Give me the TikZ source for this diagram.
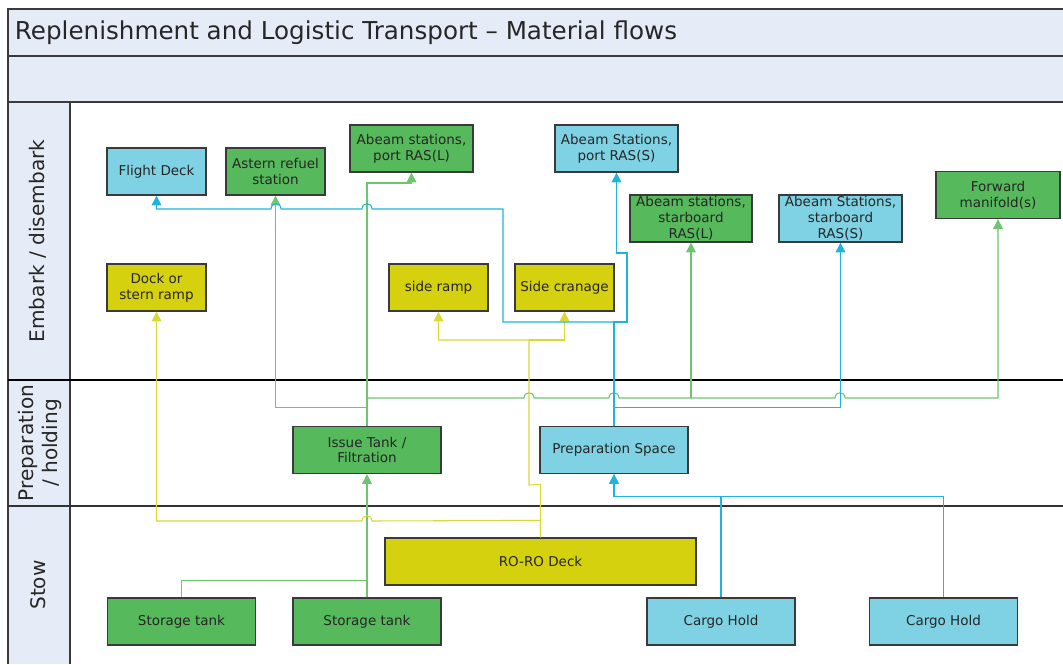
\documentclass[tikz,border=0pt]{standalone}
\usepackage{fontspec}
\setmainfont{DejaVu Sans}
\usepackage{tikz}
\usetikzlibrary{arrows.meta}

\definecolor{bandblue}{HTML}{E6ECF7}
\definecolor{boxblue}{HTML}{7ED2E3}
\definecolor{boxgreen}{HTML}{56B95B}
\definecolor{boxyellow}{HTML}{D5D10F}
\definecolor{lineblue}{HTML}{1DB5DF}
\definecolor{linegreen}{HTML}{6DC56F}
\definecolor{lineyellow}{HTML}{DAD73A}
\definecolor{edgegray}{HTML}{3A3A3A}

\begin{document}
\begin{tikzpicture}[x=0.025cm, y=-0.025cm,
    box/.style={draw=edgegray, line width=0.9pt, minimum height=1.175cm, align=center,
        inner sep=0.5pt, text=black!85, font=\fontsize{9.6}{11.2}\selectfont},
    bluebox/.style={box, fill=boxblue},
    greenbox/.style={box, fill=boxgreen},
    yellowbox/.style={box, fill=boxyellow},
    flow/.style={line width=0.75pt, -{Triangle[width=7pt,length=7pt]}},
    bflow/.style={flow, draw=lineblue},
    gflow/.style={flow, draw=linegreen},
    yflow/.style={flow, draw=lineyellow},
    lane/.style={rotate=90, align=center, text=black!85, font=\fontsize{14.3}{17.5}\selectfont}]
    \useasboundingbox (0,0) rectangle (1063,664);

    % swimlane frame
    \fill[bandblue] (8,9) rectangle (1063,102);
    \fill[bandblue] (8,102) rectangle (70,664);
    \draw[edgegray, line width=0.85pt] (1063,9) -- (8,9) -- (8,664);
    \draw[edgegray, line width=0.85pt] (8,56) -- (1063,56);
    \draw[edgegray, line width=0.85pt] (8,102) -- (1063,102);
    \draw[edgegray, line width=0.85pt] (70,102) -- (70,664);
    \draw[black, line width=0.85pt] (8,380) -- (1063,380);
    \draw[black!80, line width=0.85pt] (8,506) -- (1063,506);

    \node[anchor=west, text=black!85, font=\fontsize{17.5}{20}\selectfont] (title) at (10,33)
        {Replenishment and Logistic Transport -- Material flows};
    \node[lane] (embark) at (38,241) {Embark / disembark};
    \node[lane] (prephold) at (40,443) {Preparation\\/ holding};
    \node[lane] (stow) at (38,585) {Stow};

    % embark / disembark
    \node[bluebox, minimum width=2.475cm] (flight) at (156.5,171.5) {Flight Deck};
    \node[greenbox, minimum width=2.475cm] (astern) at (275.5,171.5) {Astern refuel\\station};
    \node[greenbox, minimum width=3.075cm] (portL) at (411.5,148.5) {Abeam stations,\\port RAS(L)};
    \node[bluebox, minimum width=3.075cm] (portS) at (616.5,148.5) {Abeam Stations,\\port RAS(S)};
    \node[greenbox, minimum width=3.05cm] (stbdL) at (691,218.5) {Abeam stations,\\starboard\\RAS(L)};
    \node[bluebox, minimum width=3.075cm] (stbdS) at (840.5,218.5) {Abeam Stations,\\starboard\\RAS(S)};
    \node[greenbox, minimum width=3.1cm] (fwd) at (998,195) {Forward\\manifold(s)};
    \node[yellowbox, minimum width=2.475cm] (dock) at (156.5,287.5) {Dock or\\stern ramp};
    \node[yellowbox, minimum width=2.475cm] (sramp) at (438.5,287.5) {side ramp};
    \node[yellowbox, minimum width=2.475cm] (crane) at (564.5,287.5) {Side cranage};

    % preparation / holding
    \node[greenbox, minimum width=3.7cm] (issue) at (367,450) {Issue Tank /\\Filtration};
    \node[bluebox, minimum width=3.7cm] (prep) at (614,450) {Preparation Space};

    % stow
    \node[yellowbox, minimum width=7.775cm] (roro) at (540.5,561.5) {RO-RO Deck};
    \node[greenbox, minimum width=3.7cm] (tank1) at (181.5,621.5) {Storage tank};
    \node[greenbox, minimum width=3.7cm] (tank2) at (367,621.5) {Storage tank};
    \node[bluebox, minimum width=3.7cm] (hold1) at (721,621.5) {Cargo Hold};
    \node[bluebox, minimum width=3.7cm] (hold2) at (943.5,621.5) {Cargo Hold};

    \coordinate (gbus) at (367,398);
    \coordinate (yfork) at (529,340);

    % liquids
    \draw[gflow] (tank2.north) -- (issue.south);
    \draw[gflow, -] (tank1.north) -- ++(0,-17) -- ++(185.5,0);
    \draw[gflow] (issue.north) -- (367,183) -| (portL.south);
    \draw[gflow] (issue.north) -- ++(0,-18) -| (astern.south);
    \draw[gflow] (issue.north) -- (gbus) -- (524,398) .. controls (524,391) and (534,391) .. (534,398)
        -- (609,398) .. controls (609,391) and (619,391) .. (619,398)
        -- (835,398) .. controls (835,391) and (845,391) .. (845,398) -| (fwd.south);
    \draw[gflow] (gbus -| stbdL.south) -- (stbdL.south);

    % vehicles
    \draw[yflow] (roro.north) -- ++(0,-53) -- (529,485) -- (yfork) -| (sramp.south);
    \draw[yflow] (yfork) -| (crane.south);
    \draw[yflow] (roro.north) -- ++(0,-17) -- (372,521) .. controls (372,514) and (362,514) .. (362,521)
        -| (dock.south);

    % dry stores
    \draw[bflow] (hold1.north) -- ++(0,-101) -| (prep.south);
    \draw[bflow] (hold2.north) -- ++(0,-101) -| (prep.south);
    \draw[bflow] (prep.north) -- (614,322) -- (627,322) -- (627,253) -- (616.5,253) -- (portS.south);
    \draw[bflow] (prep.north) -- (614,322) -- (503,322) -- (503,209)
        -- (372,209) .. controls (372,202) and (362,202) .. (362,209)
        -- (281,209) .. controls (281,202) and (271,202) .. (271,209) -| (flight.south);
    \draw[bflow] (prep.north) -- ++(0,-18) -| (stbdS.south);
\end{tikzpicture}
\end{document}
